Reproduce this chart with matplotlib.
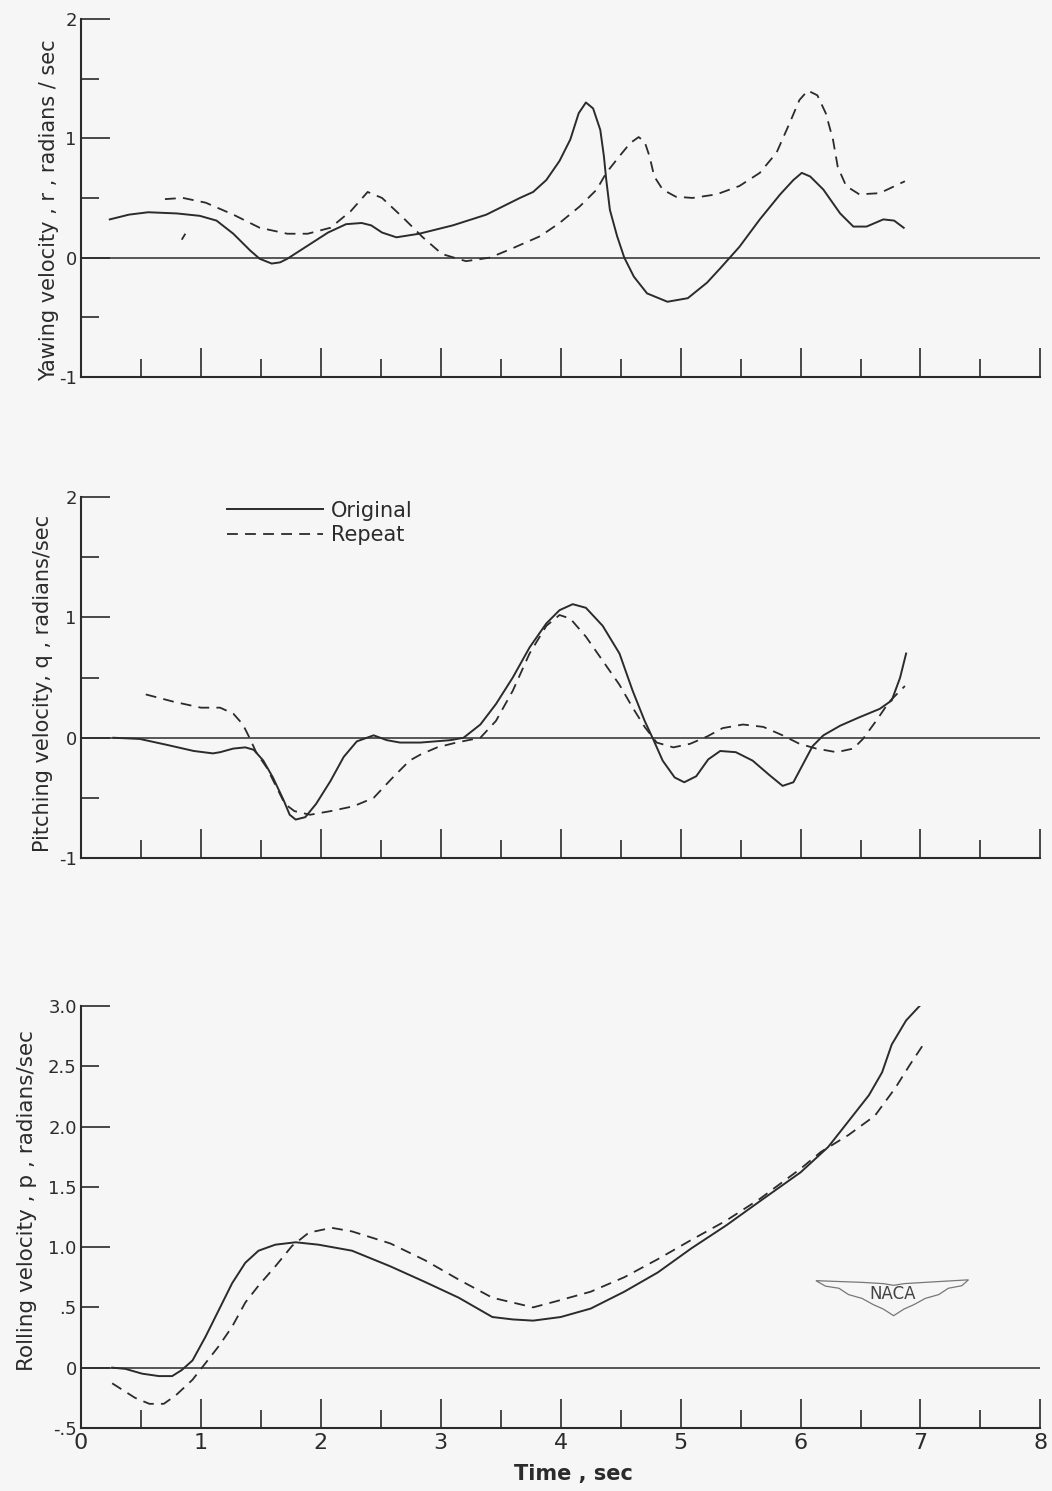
import matplotlib.pyplot as plt
from matplotlib.ticker import NullFormatter

# values (time in sec, rate in radians/sec)
yaw_orig_t = [0.24, 0.40, 0.56, 0.80, 0.99, 1.13, 1.27, 1.41, 1.49, 1.59, 1.66, 1.72, 1.89, 2.06,
              2.21, 2.34, 2.42, 2.51, 2.63, 2.82, 3.10, 3.38, 3.66, 3.77, 3.88, 3.99, 4.08, 4.15,
              4.21, 4.27, 4.33, 4.36, 4.38, 4.41, 4.47, 4.53, 4.61, 4.72, 4.89, 5.06, 5.22, 5.33,
              5.49, 5.66, 5.83, 5.94, 6.01, 6.08, 6.19, 6.33, 6.44, 6.55, 6.69, 6.78, 6.86]
yaw_orig_r = [0.32, 0.36, 0.38, 0.37, 0.35, 0.31, 0.20, 0.06, -0.01, -0.05, -0.04, -0.01, 0.10, 0.21,
              0.28, 0.29, 0.27, 0.21, 0.17, 0.20, 0.27, 0.36, 0.50, 0.55, 0.65, 0.81, 0.99, 1.21,
              1.30, 1.25, 1.07, 0.85, 0.65, 0.40, 0.18, 0.00, -0.16, -0.30, -0.37, -0.34, -0.21, -0.09,
              0.09, 0.32, 0.53, 0.65, 0.71, 0.68, 0.57, 0.37, 0.26, 0.26, 0.32, 0.31, 0.25]
yaw_rep_t = [0.70, 0.85, 1.04, 1.27, 1.49, 1.72, 1.89, 2.08, 2.25, 2.39, 2.51, 2.68, 2.85, 3.01,
             3.21, 3.41, 3.58, 3.83, 3.99, 4.16, 4.30, 4.38, 4.49, 4.58, 4.65, 4.70, 4.74, 4.78,
             4.85, 4.96, 5.10, 5.30, 5.49, 5.66, 5.80, 5.91, 5.99, 6.06, 6.14, 6.21, 6.27, 6.31,
             6.38, 6.49, 6.66, 6.87]
yaw_rep_r = [0.49, 0.50, 0.46, 0.36, 0.25, 0.20, 0.20, 0.25, 0.39, 0.55, 0.50, 0.34, 0.17, 0.03,
             -0.03, 0.00, 0.07, 0.18, 0.29, 0.43, 0.57, 0.71, 0.85, 0.96, 1.01, 0.97, 0.85, 0.68,
             0.57, 0.51, 0.50, 0.53, 0.60, 0.71, 0.88, 1.13, 1.32, 1.40, 1.36, 1.21, 0.99, 0.76,
             0.60, 0.53, 0.54, 0.64]
yaw_stray_t = [0.84, 0.87]
yaw_stray_r = [0.15, 0.20]

pitch_orig_t = [0.27, 0.49, 0.72, 0.94, 1.10, 1.16, 1.27, 1.37, 1.44, 1.52, 1.60, 1.69, 1.74, 1.79,
                1.87, 1.96, 2.08, 2.19, 2.30, 2.44, 2.55, 2.66, 2.83, 3.08, 3.19, 3.33, 3.46, 3.60,
                3.74, 3.88, 3.99, 4.10, 4.21, 4.35, 4.49, 4.60, 4.70, 4.77, 4.85, 4.95, 5.03, 5.13,
                5.23, 5.33, 5.46, 5.60, 5.74, 5.85, 5.94, 6.02, 6.10, 6.19, 6.33, 6.49, 6.66, 6.76,
                6.83, 6.88]
pitch_orig_q = [0.00, -0.01, -0.06, -0.11, -0.13, -0.12, -0.09, -0.08, -0.10, -0.19, -0.33, -0.52, -0.64, -0.68,
                -0.66, -0.55, -0.36, -0.16, -0.03, 0.02, -0.02, -0.04, -0.04, -0.02, 0.00, 0.11, 0.28, 0.50,
                0.75, 0.95, 1.06, 1.11, 1.08, 0.93, 0.70, 0.39, 0.14, -0.01, -0.19, -0.33, -0.37, -0.32,
                -0.18, -0.11, -0.12, -0.19, -0.31, -0.40, -0.37, -0.22, -0.07, 0.02, 0.10, 0.17, 0.24, 0.31,
                0.50, 0.70]
pitch_rep_t = [0.54, 0.77, 1.00, 1.16, 1.27, 1.35, 1.41, 1.46, 1.55, 1.63, 1.70, 1.78, 1.91, 2.08,
               2.27, 2.44, 2.60, 2.74, 2.83, 2.97, 3.13, 3.33, 3.46, 3.60, 3.74, 3.88, 3.99, 4.08,
               4.21, 4.35, 4.49, 4.60, 4.70, 4.80, 4.94, 5.08, 5.22, 5.35, 5.52, 5.69, 5.85, 5.99,
               6.13, 6.30, 6.44, 6.52, 6.63, 6.74, 6.87]
pitch_rep_q = [0.36, 0.30, 0.25, 0.25, 0.20, 0.11, -0.01, -0.12, -0.25, -0.41, -0.55, -0.61, -0.64, -0.61,
               -0.57, -0.50, -0.33, -0.19, -0.14, -0.08, -0.04, 0.00, 0.14, 0.39, 0.70, 0.93, 1.02, 0.99,
               0.84, 0.64, 0.44, 0.25, 0.09, -0.04, -0.08, -0.05, 0.01, 0.08, 0.11, 0.09, 0.02, -0.05,
               -0.09, -0.12, -0.09, -0.01, 0.14, 0.30, 0.43]

roll_orig_t = [0.26, 0.37, 0.51, 0.65, 0.76, 0.84, 0.93, 1.04, 1.15, 1.26, 1.37, 1.48, 1.62, 1.79,
               1.98, 2.26, 2.58, 2.87, 3.15, 3.43, 3.60, 3.77, 4.00, 4.25, 4.53, 4.81, 5.09, 5.38,
               5.66, 6.00, 6.23, 6.42, 6.57, 6.68, 6.76, 6.88, 7.03]
roll_orig_p = [0.00, -0.01, -0.05, -0.07, -0.07, -0.02, 0.06, 0.26, 0.48, 0.70, 0.87, 0.97, 1.02, 1.04,
               1.02, 0.97, 0.84, 0.71, 0.58, 0.42, 0.40, 0.39, 0.42, 0.49, 0.63, 0.79, 0.99, 1.18,
               1.38, 1.62, 1.83, 2.07, 2.26, 2.45, 2.68, 2.88, 3.04]
roll_rep_t = [0.26, 0.45, 0.57, 0.69, 0.79, 0.93, 1.04, 1.15, 1.26, 1.37, 1.48, 1.62, 1.76, 1.90,
              2.09, 2.26, 2.58, 2.87, 3.15, 3.43, 3.77, 3.96, 4.25, 4.53, 4.81, 5.09, 5.38, 5.66,
              6.00, 6.17, 6.40, 6.62, 6.79, 6.91, 7.03]
roll_rep_p = [-0.13, -0.25, -0.30, -0.30, -0.23, -0.10, 0.04, 0.18, 0.34, 0.54, 0.68, 0.84, 1.01, 1.12,
              1.16, 1.13, 1.03, 0.89, 0.73, 0.58, 0.50, 0.55, 0.63, 0.75, 0.90, 1.06, 1.22, 1.40,
              1.65, 1.79, 1.93, 2.09, 2.32, 2.51, 2.69]

ink = '#2b2b2b'
bg = '#f6f6f6'
plt.rcParams['font.family'] = 'DejaVu Sans'

fig = plt.figure(figsize=(10.52, 14.91), dpi=100, facecolor=bg)
left, width = 0.077, 0.912
ax1 = fig.add_axes([left, 0.7472, width, 0.2401])
ax2 = fig.add_axes([left, 0.4245, width, 0.2421])
ax3 = fig.add_axes([left, 0.0423, width, 0.2830])

solid = dict(color=ink, lw=1.4, solid_joinstyle='round')
dashed = dict(color=ink, lw=1.3, ls=(0, (6, 4)))

ax1.plot(yaw_orig_t, yaw_orig_r, **solid)
ax1.plot(yaw_rep_t, yaw_rep_r, **dashed)
ax1.plot(yaw_stray_t, yaw_stray_r, **dashed)

ax2.plot(pitch_orig_t, pitch_orig_q, label='Original', **solid)
ax2.plot(pitch_rep_t, pitch_rep_q, label='Repeat', **dashed)

ax3.plot(roll_orig_t, roll_orig_p, **solid)
ax3.plot(roll_rep_t, roll_rep_p, **dashed)

for ax in (ax1, ax2, ax3):
    ax.set_facecolor(bg)
    ax.axhline(0, color=ink, lw=1.1)
    ax.set_xlim(0, 8)
    for s in ('top', 'right'):
        ax.spines[s].set_visible(False)
    for s in ('left', 'bottom'):
        ax.spines[s].set_color(ink)
        ax.spines[s].set_linewidth(1.5)
    ax.set_xticks(range(0, 9))
    ax.set_xticks([0.5 + i for i in range(8)], minor=True)
    ax.tick_params(axis='both', which='major', direction='in', length=21, width=1.2, color=ink)
    ax.tick_params(axis='both', which='minor', direction='in', length=13, width=1.2, color=ink)
    ax.tick_params(axis='y', which='both', labelsize=13, pad=3, labelcolor=ink)

for ax in (ax1, ax2):
    ax.set_ylim(-1, 2)
    ax.set_yticks([-1, 0, 1, 2], labels=['-1', '0', '1', '2'])
    ax.set_yticks([-0.5, 0.5, 1.5], minor=True)
    ax.yaxis.set_minor_formatter(NullFormatter())
    ax.tick_params(axis='x', which='both', labelbottom=False)

ax1.set_ylabel('Yawing velocity , r , radians / sec', fontsize=15, color=ink)
ax1.yaxis.set_label_coords(-0.023, 0.466)
ax2.set_ylabel('Pitching velocity, q , radians/sec', fontsize=15, color=ink)
ax2.yaxis.set_label_coords(-0.029, 0.485)

ax3.set_ylim(-0.5, 3.0)
ax3.set_yticks([0, 1, 2, 3], labels=['0', '1.0', '2.0', '3.0'])
ax3.set_yticks([-0.5, 0.5, 1.5, 2.5], labels=['-.5', '.5', '1.5', '2.5'], minor=True)
ax3.tick_params(axis='x', which='major', labelsize=16, pad=4, labelcolor=ink)
ax3.set_ylabel('Rolling velocity , p , radians/sec', fontsize=15.5, color=ink)
ax3.yaxis.set_label_coords(-0.046, 0.54)
ax3.set_xlabel('Time , sec', fontsize=15, fontweight='bold', color=ink)
ax3.xaxis.set_label_coords(0.513, -0.085)

leg = ax2.legend(loc='upper left', bbox_to_anchor=(0.152, 0.99), frameon=False, fontsize=15,
                 handlelength=4.6, handletextpad=0.4, labelspacing=0.2, borderaxespad=0, borderpad=0)
for txt in leg.get_texts():
    txt.set_color(ink)

# NACA wing emblem
wing_x = [0.766, 0.776, 0.790, 0.800, 0.814, 0.826, 0.836, 0.847,
          0.858, 0.868, 0.880, 0.894, 0.904, 0.918, 0.925,
          0.880, 0.858, 0.847, 0.836, 0.814, 0.766]
wing_y = [0.349, 0.336, 0.331, 0.316, 0.307, 0.292, 0.282, 0.266,
          0.282, 0.292, 0.307, 0.316, 0.331, 0.337, 0.351,
          0.345, 0.342, 0.338, 0.342, 0.345, 0.349]
ax3.fill(wing_x, wing_y, transform=ax3.transAxes, facecolor='none', edgecolor='#777777', lw=0.9)
ax3.text(0.846, 0.318, 'NACA', transform=ax3.transAxes, ha='center', va='center',
         fontsize=12, color='#444444')

fig.savefig('out.png', dpi=100, facecolor=bg)
